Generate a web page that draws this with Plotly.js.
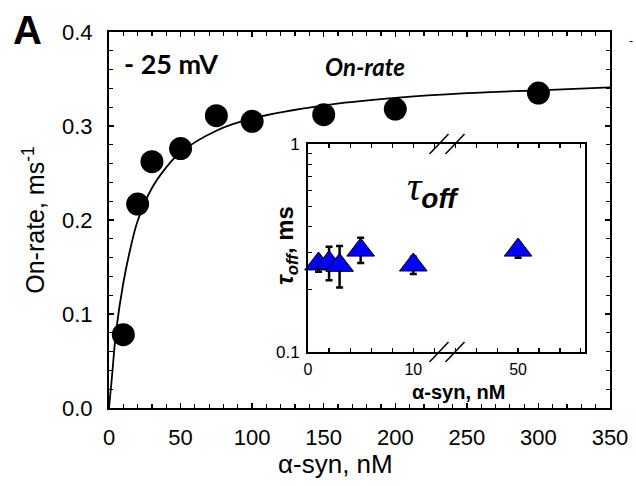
<!DOCTYPE html>
<html><head><meta charset="utf-8">
<script src="https://cdn.plot.ly/plotly-3.0.1.min.js"></script>
<style>html,body{margin:0;padding:0;background:#fff}</style>
</head><body><div id="chart" style="width:636px;height:486px"></div>
<script>
// ---- main panel data (on-rate vs alpha-syn) ----
const onRateX = [10, 20, 30, 50, 75, 100, 150, 200, 300];
const onRateY = [0.078, 0.217, 0.262, 0.276, 0.311, 0.305, 0.312, 0.318, 0.335];
// fitted curve
const fitX = [0, 2, 5, 10, 15, 20, 30, 40, 50, 75, 100, 150, 200, 250, 300, 350];
const fitY = [0, 0.032, 0.082, 0.133, 0.170, 0.199, 0.234, 0.256, 0.272, 0.295, 0.308, 0.322, 0.330, 0.335, 0.338, 0.341];
const mainXTicks = [0, 50, 100, 150, 200, 250, 300, 350];
// ---- inset data (tau_off vs alpha-syn) ----
const tauX = [1, 2, 3, 5, 10];
const tauY = [0.265, 0.269, 0.261, 0.309, 0.262];
const tauErrPlus = [0.020, 0.052, 0.062, 0.045, 0.025];
const tauErrMinus = [0.022, 0.048, 0.057, 0.041, 0.025];
const tauXHigh = [50];
const tauYHigh = [0.309];
const tauErrPlusHigh = [0.025];
const tauErrMinusHigh = [0.025];
const insetYTickVals = [0.1, 1];
const insetYTickText = ['0.1', '1'];
const insetYMinorVals = [0.2, 0.3, 0.4, 0.5, 0.6, 0.7, 0.8, 0.9];

// ---- geometry (pixels) ----
const W = 636, H = 486, L = 109, R = 610, T = 32, B = 408;
const px2x = p => (p - L) / (R - L);
const py2y = p => (B - p) / (B - T);
const inL = 308, inBreak = 447, inR = 585, inT = 144, inB = 352;

const numFont = 'Liberation Sans, Arial, sans-serif';
const boldFont = 'Lato, Open Sans, sans-serif';

const triMarker = {symbol: 'triangle-up', size: 24, color: 'rgb(0,0,255)', line: {color: 'black', width: 1}};

const traces = [
  {x: fitX, y: fitY, mode: 'lines', line: {color: 'black', width: 1.8, shape: 'spline', smoothing: 1}, xaxis: 'x', yaxis: 'y', hoverinfo: 'skip'},
  {x: onRateX, y: onRateY, mode: 'markers', marker: {color: 'black', size: 23}, xaxis: 'x', yaxis: 'y', cliponaxis: false},
  {x: tauX, y: tauY, mode: 'markers', xaxis: 'x2', yaxis: 'y2', cliponaxis: false, marker: triMarker,
   error_y: {type: 'data', symmetric: false, array: tauErrPlus, arrayminus: tauErrMinus, color: 'black', thickness: 2.5, width: 3.5}},
  {x: tauXHigh, y: tauYHigh, mode: 'markers', xaxis: 'x3', yaxis: 'y3', cliponaxis: false, marker: triMarker,
   error_y: {type: 'data', symmetric: false, array: tauErrPlusHigh, arrayminus: tauErrMinusHigh, color: 'black', thickness: 2.5, width: 3.5}}
];

const frameAxis = {showline: true, linecolor: 'black', linewidth: 2, showgrid: false, zeroline: false, ticks: 'inside', tickcolor: 'black'};

const shapes = [];
[inT, inB].forEach(yp => {
  [-8, 8].forEach(off => {
    const cx = inBreak + off;
    shapes.push({type: 'line', xref: 'paper', yref: 'paper',
      x0: px2x(cx - 9.5), y0: py2y(yp + 10), x1: px2x(cx + 9.5), y1: py2y(yp - 10),
      line: {color: 'black', width: 1.5}});
  });
});

const ann = (px, py, text, font, extra) => Object.assign({xref: 'paper', yref: 'paper', x: px2x(px), y: py2y(py), text: text, showarrow: false, xanchor: 'center', yanchor: 'middle', font: font}, extra || {});

const annotations = [
  ann(27, 30, '<b>A</b>', {family: 'Liberation Sans, Arial', size: 40, color: 'black'}),
  ann(171, 63, '<b>- 25 mV</b>', {family: boldFont, size: 27, color: 'black'}),
  ann(365, 66, '<b><i>On-rate</i></b>', {family: boldFont, size: 24, color: 'black'}),
  ann(433, 189, '<span style="font-family:Liberation Serif"><i>τ</i></span><sub><b><i>off</i></b></sub>', {family: 'Liberation Sans, Arial', size: 40, color: 'black'}),
  ann(286, 246, '<b><i>τ</i><sub><i>off</i></sub>, ms</b>', {family: 'Liberation Sans, Arial', size: 24, color: 'black'}, {textangle: -90}),
  ann(458, 392, '<b>α-syn, nM</b>', {family: 'Liberation Sans, Arial', size: 20, color: 'black'}),
  ann(335, 464, 'α-syn, nM', {family: numFont, size: 26, color: 'black'}),
  ann(631, 41, '-', {family: 'Liberation Sans, Arial', size: 12, color: 'black'})
];

const layout = {
  width: W, height: H,
  margin: {l: L, r: W - R, t: T, b: H - B, pad: 0},
  paper_bgcolor: 'white', plot_bgcolor: 'white',
  showlegend: false,
  xaxis: Object.assign({}, frameAxis, {
    range: [0, 350], tickvals: mainXTicks, mirror: 'allticks', ticklen: 5, tickwidth: 1.5,
    minor: {ticks: 'inside', dtick: 10, ticklen: 4, tickwidth: 1.2, tickcolor: 'black', showgrid: false},
    tickfont: {family: numFont, size: 22, color: 'black'}, ticklabelstandoff: 9
  }),
  yaxis: Object.assign({}, frameAxis, {
    range: [0, 0.4], dtick: 0.1, tickformat: '.1f', mirror: 'allticks', ticklen: 5, tickwidth: 1.5,
    minor: {ticks: 'inside', dtick: 0.02, ticklen: 4, tickwidth: 1.2, tickcolor: 'black', showgrid: false},
    tickfont: {family: numFont, size: 22, color: 'black'}, ticklabelstandoff: 10,
    title: {text: 'On-rate, ms<sup>-1</sup>', font: {family: numFont, size: 25, color: 'black'}, standoff: 10}
  }),
  xaxis2: Object.assign({}, frameAxis, {
    domain: [px2x(inL), px2x(inBreak)], anchor: 'y2', range: [0, 13.2], dtick: 10, tick0: 0,
    mirror: 'allticks', ticklen: 4, tickwidth: 1.2,
    minor: {ticks: 'inside', dtick: 2, ticklen: 4, tickwidth: 1.2, tickcolor: 'black', showgrid: false},
    tickfont: {family: numFont, size: 16, color: 'black'}, ticklabelstandoff: 2
  }),
  xaxis3: Object.assign({}, frameAxis, {
    domain: [px2x(inBreak), px2x(inR)], anchor: 'y3', range: [43.2, 56.4], dtick: 10, tick0: 0,
    mirror: 'allticks', ticklen: 4, tickwidth: 1.2,
    minor: {ticks: 'inside', dtick: 2, ticklen: 4, tickwidth: 1.2, tickcolor: 'black', showgrid: false},
    tickfont: {family: numFont, size: 16, color: 'black'}, ticklabelstandoff: 2
  }),
  yaxis2: Object.assign({}, frameAxis, {
    domain: [py2y(inB), py2y(inT)], anchor: 'x2', type: 'log', range: [-1, 0],
    tickmode: 'array', tickvals: insetYTickVals, ticktext: insetYTickText, ticklen: 4, tickwidth: 1.2,
    minor: {ticks: 'inside', tickmode: 'array', tickvals: insetYMinorVals, ticklen: 4, tickwidth: 1.2, tickcolor: 'black', showgrid: false},
    tickfont: {family: numFont, size: 17, color: 'black'}, ticklabelstandoff: 3
  }),
  yaxis3: Object.assign({}, frameAxis, {
    domain: [py2y(inB), py2y(inT)], anchor: 'x3', type: 'log', range: [-1, 0], side: 'right',
    ticks: '', showticklabels: false
  }),
  shapes: shapes,
  annotations: annotations
};

Plotly.newPlot('chart', traces, layout, {displayModeBar: false, staticPlot: true});
</script>
</body></html>
